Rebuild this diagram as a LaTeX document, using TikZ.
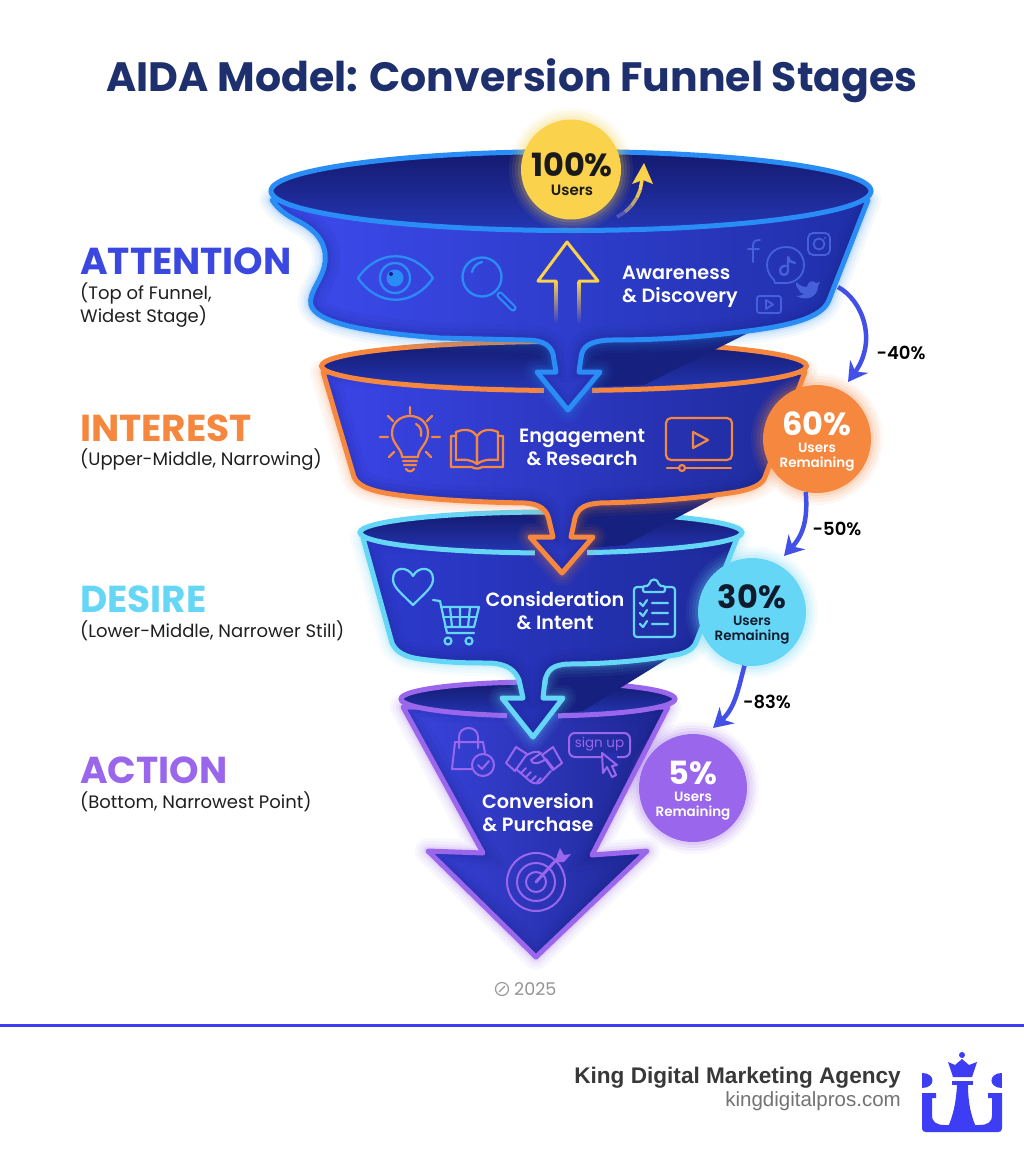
\documentclass[tikz,border=0pt]{standalone}
\usepackage{fontspec}
\usetikzlibrary{arrows.meta}
\setmainfont{Poppins}
\newfontfamily\popsemi{Poppins SemiBold}
\newfontfamily\footf{Liberation Sans}
\newcommand\fsz[2]{\fontsize{#1}{#2}\selectfont}
\newcommand\pctf{\normalfont\bfseries\fsz{32}{34}}
\definecolor{cblue}{HTML}{2A8CF5}
\definecolor{corange}{HTML}{F5873F}
\definecolor{ccyan}{HTML}{66D6F7}
\definecolor{cpurple}{HTML}{9A66EC}
\definecolor{cyellow}{HTML}{FBD24B}
\definecolor{navy}{HTML}{16207E}
\definecolor{titlec}{HTML}{1E2F6E}
\definecolor{dropc}{HTML}{4350E8}
\definecolor{logoc}{HTML}{3D3DF5}
\definecolor{attc}{HTML}{3A48E0}
\definecolor{bdL}{HTML}{3A44E0}\definecolor{bdM}{HTML}{2A34B8}\definecolor{bdR}{HTML}{1D2690}
\definecolor{bcL}{HTML}{2D3BD0}\definecolor{bcM}{HTML}{2430B0}\definecolor{bcR}{HTML}{1E2A9A}
\definecolor{bbL}{HTML}{3A45E8}\definecolor{bbM}{HTML}{2B35C0}\definecolor{bbR}{HTML}{1E2A9A}
\definecolor{baL}{HTML}{3D4BEE}\definecolor{baM}{HTML}{303CD6}\definecolor{baR}{HTML}{1F2FA8}
\definecolor{rimT}{HTML}{141A6E}\definecolor{rimB}{HTML}{2436B4}
\definecolor{socc}{HTML}{4560D8}
\definecolor{yfade}{HTML}{2D3ACD}
\definecolor{darkt}{HTML}{1A1A1A}
\definecolor{darkc}{HTML}{0F1B2D}
\tikzset{
 bodyA/.style={insert path={(272,200) .. controls (280,212) and (290,217) .. (300,222) .. controls (318,232) and (327,245) .. (325,262) .. controls (323,280) and (308,292) .. (311,305) .. controls (316,322) and (360,332) .. (440,338) -- (525,340) .. controls (545,340) and (553,346) .. (554,360) -- (556,372) -- (537,372) -- (568,410) -- (600,372) -- (579,372) -- (581,358) .. controls (582,346) and (590,341) .. (610,340) .. controls (660,340) and (700,337) .. (740,332) .. controls (790,326) and (822,318) .. (829,300) -- (868,200) -- cycle}},
 bodyB/.style={insert path={(323,372) -- (354,477) .. controls (358,486) and (370,490) .. (385,493) .. controls (420,499) and (470,502) .. (525,503) .. controls (540,504) and (547,510) .. (549,520) -- (553,537) -- (530,537) -- (562,573) -- (593,537) -- (571,537) -- (575,518) .. controls (578,508) and (585,504) .. (600,503) .. controls (650,502) and (700,498) .. (736,492) .. controls (752,489) and (762,485) .. (765,477) -- (805,372) -- cycle}},
 bodyC/.style={insert path={(363,538) -- (392,643) .. controls (396,652) and (405,657) .. (420,659) .. controls (450,663) and (470,663) .. (490,663) .. controls (507,664) and (515,670) .. (519,680) -- (523,698) -- (502,698) -- (533,737) -- (563,698) -- (543,698) -- (545,680) .. controls (548,670) and (552,665) .. (568,664) .. controls (610,664) and (650,660) .. (680,654) .. controls (690,651) and (695,647) .. (697,640) -- (737,538) -- cycle}},
 bodyD/.style={insert path={(403,707) -- (483,853) -- (428,851) -- (536,957) -- (647,851) -- (592,855) -- (668,707) -- cycle}},
 stagetext/.style={text=white,font=\popsemi\fsz{19.2}{23},align=center,inner sep=0pt},
 headlabel/.style={font=\bfseries\fsz{37.5}{40},anchor=west,inner sep=0pt},
 sublabel/.style={font=\fsz{18}{22.5},anchor=west,align=left,text=black!88,inner sep=0pt},
 pctcircle/.style={circle,minimum size=108pt,inner sep=0pt},
 droparrow/.style={draw=dropc,line width=4.5pt,-{Stealth[length=19pt,width=22pt]}},
 droplabel/.style={font=\popsemi\fsz{18}{20},text=black,inner sep=0pt},
 icon/.style={line width=2.3pt,line cap=round,line join=round},
}
\newcommand\glowon[2]{\foreach \w/\o in {26/.05,20/.06,14/.08,9/.12}{\path[#1,draw=#2,line width=\w pt,draw opacity=\o,line join=round];}}
\newcommand\vign[1]{\begin{scope}\clip[#1];\foreach \w/\o in {30/.06,20/.08,12/.10,6/.12}{\path[#1,draw=navy,line width=\w pt,draw opacity=\o];}\end{scope}}
\newcommand\haloc[3]{\foreach \r/\o in {12/.06,9/.08,6/.1,3/.14}{\fill[#1,opacity=\o] (#2) circle[radius=#3+\r];}}
\begin{document}
\begin{tikzpicture}[x=1pt,y=-1pt]
\useasboundingbox (0,0) rectangle (1024,1154);
\fill[white] (0,0) rectangle (1024,1154);
\node[font=\bfseries\fsz{41}{44},text=titlec,inner sep=0pt] (title) at (512,81) {AIDA Model: Conversion Funnel Stages};

% ---------- left labels
\node[headlabel,text=attc] (lA) at (80,261) {ATTENTION};
\node[sublabel] (sA) at (80,305) {(Top of Funnel,\\Widest Stage)};
\node[headlabel,text=corange] (lI) at (80,428) {INTEREST};
\node[sublabel] (sI) at (80,460) {(Upper-Middle, Narrowing)};
\node[headlabel,text=ccyan] (lD) at (80,599) {DESIRE};
\node[sublabel] (sD) at (80,631) {(Lower-Middle, Narrower Still)};
\node[headlabel,text=cpurple] (lC) at (80,770) {ACTION};
\node[sublabel] (sC) at (80,802) {(Bottom, Narrowest Point)};

% ---------- stage 4
\glowon{bodyD}{cpurple}
\path[bodyD,left color=bdL,middle color=bdM,right color=bdR];
\vign{bodyD}
\path[bodyD,draw=cpurple,line width=5pt,line join=round];
\path[draw=cpurple,line width=5pt,top color=rimT,bottom color=rimB] (538,699) ellipse[x radius=137,y radius=17];
\fill[bdM] (507,712) rectangle (558,722);
\fill[navy] (672,656) -- (583,711) -- (548,714) -- (548,660) -- cycle;

% ---------- stage 3
\glowon{bodyC}{ccyan}
\path[bodyC,left color=bcL,middle color=bcM,right color=bcR];
\vign{bodyC}
\path[bodyC,draw=ccyan,line width=5pt,line join=round];
\path[draw=ccyan,line width=5pt,top color=rimT,bottom color=rimB] (551,532.5) ellipse[x radius=191,y radius=20.5];
\fill[bcM] (535,546) rectangle (587,559);
\fill[navy] (722,494) -- (625,545) -- (565,550) -- (565,498) -- cycle;

% ---------- stage 2
\glowon{bodyB}{corange}
\path[bodyB,left color=bbL,middle color=bbM,right color=bbR];
\vign{bodyB}
\path[bodyB,draw=corange,line width=5pt,line join=round];
\path[draw=corange,line width=5pt,top color=rimT,bottom color=rimB] (564,366) ellipse[x radius=242.5,y radius=24.5];
\fill[bbM] (544,380) rectangle (592,396);
\fill[navy] (748,333) -- (644,385) -- (570,388) -- (570,336) -- cycle;

% ---------- stage 1
\glowon{bodyA}{cblue}
\path[bodyA,left color=baL,middle color=baM,right color=baR];
\vign{bodyA}
\path[bodyA,draw=cblue,line width=5pt,line join=round];
\path[draw=cblue,line width=5pt,top color=rimT,bottom color=rimB] (571,191) ellipse[x radius=300,y radius=39.5];

% ---------- stage 1 icons
\begin{scope}[icon,draw=cblue]
\draw (358,278) .. controls (378,249) and (413,249) .. (433,278) .. controls (413,307) and (378,307) .. (358,278) -- cycle;
\draw (395,278) circle[radius=15];
\fill[cblue] (395,278) circle[radius=8.5];
\fill[navy] (391,274) circle[radius=2];
\draw (482,277) circle[radius=19.5];
\draw (472,272) .. controls (473,267) and (477,263) .. (482,262);
\draw[line width=7pt,line cap=round] (500,295) -- (513,308);
\draw[line width=2.5pt,color=baM,line cap=round] (500,295) -- (513,308);
\end{scope}
% yellow rising arrow
\begin{scope}[icon,line width=3pt]
\draw[cyellow] (556,281) -- (538,281) -- (567,242) -- (598,281) -- (579,281);
\shade[top color=cyellow,bottom color=yfade] (554.5,281) rectangle (557.5,324);
\shade[top color=cyellow,bottom color=yfade] (577.5,281) rectangle (580.5,324);
\end{scope}
% social icons
\begin{scope}[icon,line width=1.8pt,draw=socc]
\draw (753,262) -- (753,245) .. controls (753,241) and (756,240) .. (760,240) (748,249) -- (759,249);
\draw (786,247) .. controls (798,247) and (804,256) .. (804,265) .. controls (804,276) and (795,283) .. (786,283) -- (775,283) -- (774,280) .. controls (770,276) and (767,271) .. (767,265) .. controls (767,256) and (774,247) .. (786,247) -- cycle;
\draw[line width=2.4pt] (788,257) -- (788,271) .. controls (788,276) and (780,276) .. (780,271) .. controls (780,267) and (784,265) .. (786,266) (788,257) .. controls (789,261) and (792,263) .. (795,263);
\draw[rounded corners=5pt] (808,233) rectangle (830,255);
\draw (819,244) circle[radius=5.5];
\fill[socc] (825,238) circle[radius=1.2];
\draw[rounded corners=2.5pt] (757,296) rectangle (781,313);
\draw (766,300) -- (766,309) -- (773,304.5) -- cycle;
\fill[socc] (796,282) .. controls (800,286) and (804,287) .. (807,287) .. controls (807,282) and (813,279) .. (816,283) -- (820,282) -- (818,286) .. controls (818,296) and (808,302) .. (796,296) .. controls (800,296) and (802,295) .. (804,294) .. controls (800,293) and (799,291) .. (799,290) .. controls (797,288) and (795,285) .. (796,282) -- cycle;
\end{scope}
\node[stagetext,align=left,anchor=west] (tA) at (622,287) {Awareness\\\& Discovery};

% ---------- stage 2 icons
\begin{scope}[icon,draw=corange,line width=2.2pt]
\draw (402,457) .. controls (402,449) and (392,444) .. (392,433) .. controls (392,423) and (400,416) .. (410,416) .. controls (420,416) and (428,423) .. (428,433) .. controls (428,444) and (418,449) .. (418,457) -- cycle;
\draw (403,461) -- (417,461) (404,465) -- (416,465) (406,469) .. controls (408,472) and (412,472) .. (414,469);
\draw (416,424) .. controls (420,426) and (422,430) .. (421,436);
\draw (410,407) -- (410,414) (388,416) -- (393,421) (432,416) -- (427,421) (380,437) -- (388,437) (432,437) -- (440,437) (389,457) -- (394,452) (431,457) -- (426,452);
\draw (456,432) .. controls (465,428) and (473,430) .. (477,436) -- (477,464) .. controls (472,460) and (465,459) .. (456,460) -- cycle;
\draw (498,432) .. controls (489,428) and (481,430) .. (477,436) -- (477,464) .. controls (482,460) and (489,459) .. (498,460) -- cycle;
\draw (456,436) -- (451,436) -- (451,467) -- (472,467) .. controls (474,469) and (480,469) .. (482,467) -- (503,467) -- (503,436) -- (498,436);
\draw[rounded corners=5pt] (666,418) rectangle (732,460);
\draw (693,432) -- (693,448) -- (708,440) -- cycle;
\draw (667,468) -- (679,468) (685,468) -- (731,468);
\draw (682,468) circle[radius=3];
\end{scope}
\node[stagetext] (tI) at (582,447) {Engagement\\\& Research};

% ---------- stage 3 icons
\begin{scope}[icon,draw=ccyan,line width=2.2pt]
\draw (413,605) .. controls (400,592) and (393,587) .. (393,579) .. controls (393,566) and (408,566) .. (413,576) .. controls (418,566) and (433,566) .. (433,579) .. controls (433,587) and (426,592) .. (413,605) -- cycle;
\draw (433,600) -- (440,601) -- (447,633) -- (474,633);
\draw (441,607) -- (479,607) -- (474,627) -- (445,627);
\draw (443,617) -- (476.5,617);
\draw (450,607) -- (452,627) (460,607) -- (460,627) (470,607) -- (468,627);
\draw (448,641) circle[radius=3.5] (469,641) circle[radius=3.5];
\draw[rounded corners=3pt] (643,587) -- (634,587) -- (634,637) -- (675,637) -- (675,587) -- (665,587);
\draw[rounded corners=2pt] (643,592) -- (643,586) -- (649,586) .. controls (650,578) and (658,578) .. (659,586) -- (665,586) -- (665,592) -- cycle;
\draw (640,603) -- (643,606) -- (647,600) (652,603) -- (668,603);
\draw (640,613) -- (643,616) -- (647,610) (652,613) -- (668,613);
\draw (640,624) -- (643,627) -- (647,621) (652,624) -- (668,624);
\end{scope}
\node[stagetext] (tD) at (555,611) {Consideration\\\& Intent};

% ---------- stage 4 icons
\begin{scope}[icon,draw=cpurple,line width=2pt]
\draw (472,769) -- (452,769) -- (455,742) -- (483,742) -- (485,753);
\draw (459,748) -- (459,737) .. controls (459,725) and (478,725) .. (478,737) -- (478,748);
\draw (483,765) circle[radius=11];
\draw (478,765) -- (482,769) -- (489,761);
\draw (506,763) -- (516,747) -- (527,754) -- (515,771) -- cycle;
\draw (562,763) -- (553,747) -- (542,755) -- (553,770) -- cycle;
\draw (527,755) .. controls (533,751) and (538,751) .. (541,753) -- (531,760) .. controls (533,765) and (538,764) .. (546,759) -- (553,768);
\draw (516,769) -- (531,782) .. controls (535,784) and (540,784) .. (542,781) -- (551,771);
\draw (521,773) -- (526,768) (526,777) -- (531,772) (531,781) -- (536,776) (537,782) -- (541,778);
\draw[rounded corners=6pt] (569,733) rectangle (630,757);
\fill[bcM] (601,753) rectangle (617,759);
\draw (602,753) -- (603,773) -- (607,767) -- (612,777) -- (616,775) -- (612,766) -- (617,765) -- cycle;
\draw (536,882) circle[radius=29] (536,882) circle[radius=19] (536,882) circle[radius=10];
\draw[line width=3pt] (536,882) -- (558,858);
\fill[cpurple] (557,855) -- (560,848) -- (564,855) -- (571,854) -- (564,862) -- (557,862) -- cycle;
\end{scope}
\node[font=\fsz{13.5}{15},text=cpurple,inner sep=0pt] (tS) at (599.5,744) {sign up};
\node[stagetext] (tC) at (538,813) {Conversion\\\& Purchase};

% ---------- percentage circles
\haloc{cyellow}{571,169.5}{50}
\node[pctcircle,minimum size=100pt,fill=cyellow] (c100) at (571,169.5) {};
\node[inner sep=0pt,align=center,text=darkt,font=\popsemi\fsz{15}{19}] (p100) at (572,174) {{\pctf 100\%}\\Users};
\draw[yfade!80!cyellow,line width=3.5pt] (617,217) -- (625.1,211.9);
\draw[yfade!50!cyellow,line width=3.5pt] (625.1,211.9) -- (631.7,205.4);
\draw[yfade!30!cyellow,line width=3.5pt] (631.7,205.4) -- (636.7,197.9);
\draw[yfade!12!cyellow,line width=3.5pt] (636.7,197.9) -- (640.1,190);
\draw[cyellow,line width=3.5pt] (640.1,190) -- (642,180);
\fill[cyellow] (644,163) -- (653,184) -- (643,180) -- (632,184) -- cycle;

\haloc{corange}{817,439}{54}
\node[pctcircle,fill=corange] (c60) at (817,439) {};
\node[inner sep=0pt,align=center,text=white,font=\popsemi\fsz{13.5}{14.5}] (p60) at (817,441) {{\pctf 60\%}\\[3pt]Users\\Remaining};
\haloc{ccyan}{752,612}{54}
\node[pctcircle,fill=ccyan] (c30) at (752,612) {};
\node[inner sep=0pt,align=center,text=darkc,font=\popsemi\fsz{13.5}{14.5}] (p30) at (752,614) {{\pctf 30\%}\\[3pt]Users\\Remaining};
\haloc{cpurple}{693,788}{54}
\node[pctcircle,fill=cpurple] (c5) at (693,788) {};
\node[inner sep=0pt,align=center,text=white,font=\popsemi\fsz{13.5}{14.5}] (p5) at (693,790.5) {{\pctf 5\%}\\[3pt]Users\\Remaining};

% ---------- drop connectors
\coordinate (d1s) at (838,287);
\coordinate (d1e) at (848,382);
\coordinate (d2e) at (784,556);
\coordinate (d3e) at (713,728);
\draw[droparrow] (d1s) .. controls (862,300) and (878,340) .. (d1e);
\draw[droparrow] (c60.258) .. controls (808,520) and (803,535) .. (d2e);
\draw[droparrow] (c30.262) .. controls (738,690) and (735,708) .. (d3e);
\node[droplabel] (dl1) at (901,353) {-40\%};
\node[droplabel] (dl2) at (837,529) {-50\%};
\node[droplabel] (dl3) at (767,702) {-83\%};

% ---------- year
\draw[black!40,line width=1.2pt] (502,989) circle[radius=6.5];
\draw[black!40,line width=1.2pt] (499,992) -- (505,986);
\node[font=\fsz{17.5}{20},text=black!42,inner sep=0pt,anchor=west] (yr) at (514,989) {2025};

% ---------- footer
\fill[logoc] (0,1024) rectangle (1024,1027);
\node[font=\footf\bfseries\fsz{22.6}{26},text=black!78,anchor=east,inner sep=0pt] (fa) at (901,1078) {King Digital Marketing Agency};
\node[font=\footf\fsz{20.5}{22},text=black!55,anchor=east,inner sep=0pt] (fb) at (901,1101) {kingdigitalpros.com};
\fill[logoc] (922,1073) .. controls (936,1073) and (936,1088) .. (922,1088) -- cycle;
\fill[logoc] (1002,1073) .. controls (988,1073) and (988,1088) .. (1002,1088) -- cycle;
\fill[logoc] (922,1093) -- (936,1093) -- (936,1098) -- (932,1098) -- (932,1115) .. controls (932,1122) and (936,1125) .. (945,1125) -- (979,1125) .. controls (988,1125) and (992,1122) .. (992,1115) -- (992,1098) -- (988,1098) -- (988,1093) -- (1002,1093) -- (1002,1128) .. controls (1002,1131) and (1001,1132) .. (998,1132) -- (926,1132) .. controls (923,1132) and (922,1131) .. (922,1128) -- cycle;
\fill[logoc] (952,1081) rectangle (973,1085);
\fill[logoc] (957,1085) -- (968,1085) .. controls (968,1105) and (972,1118) .. (976,1127) -- (948,1127) .. controls (952,1118) and (956,1105) .. (957,1085) -- cycle;
\fill[logoc] (948,1062) -- (955,1065) -- (962,1059) -- (969,1065) -- (977,1062) -- (972,1077) -- (953,1077) -- cycle;
\fill[logoc] (962,1055) circle[radius=3];
\end{tikzpicture}
\end{document}
